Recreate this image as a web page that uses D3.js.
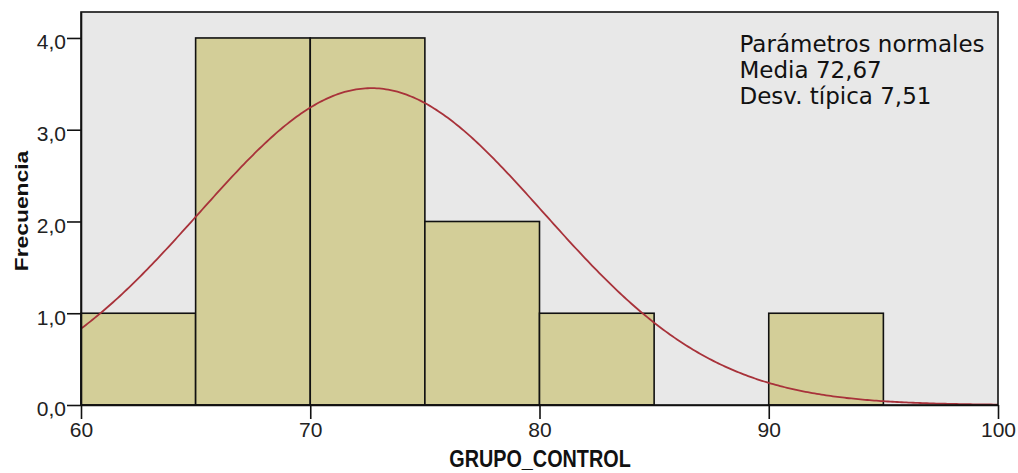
<!DOCTYPE html>
<html>
<head>
<meta charset="utf-8">
<script src="https://cdn.jsdelivr.net/npm/d3@7/dist/d3.min.js"></script>
<style>
  html, body { margin: 0; padding: 0; background: #ffffff; }
  svg { display: block; }
</style>
</head>
<body>
<svg id="chart" width="1018" height="473"></svg>
<script>
// Histogram of GRUPO_CONTROL with fitted normal curve
const binStarts = [60, 65, 70, 75, 80, 85, 90];
const binWidth = 5;
const counts = [1, 4, 4, 2, 1, 0, 1];
const meanValue = 72.67;
const sdValue = 7.51;
const xTicks = [60, 70, 80, 90, 100];
const yTicks = [0, 1, 2, 3, 4];
const legendLines = ["Parámetros normales", "Media 72,67", "Desv. típica 7,51"];

const plot = { left: 81, right: 998, top: 12, bottom: 405 };
const xDomain = [60, 100];
const yDomain = [0, 4.283];

const svg = d3.select("#chart");

const x = d3.scaleLinear().domain(xDomain).range([plot.left, plot.right]);
const y = d3.scaleLinear().domain(yDomain).range([plot.bottom, plot.top]);

// plot background
svg.append("rect")
  .attr("x", plot.left).attr("y", plot.top)
  .attr("width", plot.right - plot.left).attr("height", plot.bottom - plot.top)
  .attr("fill", "#e8e8e8");

// bars
const bins = binStarts.map((s, i) => ({ x0: s, x1: s + binWidth, n: counts[i] }))
  .filter(d => d.n > 0);
svg.append("g").selectAll("rect")
  .data(bins)
  .join("rect")
  .attr("x", d => x(d.x0))
  .attr("y", d => y(d.n))
  .attr("width", d => x(d.x1) - x(d.x0))
  .attr("height", d => y(0) - y(d.n))
  .attr("fill", "#d3ce98")
  .attr("stroke", "#111")
  .attr("stroke-width", 1.6);

// normal curve scaled to counts
const total = d3.sum(counts);
const pdf = v => Math.exp(-0.5 * ((v - meanValue) / sdValue) ** 2) / (sdValue * Math.sqrt(2 * Math.PI));
const curvePts = d3.range(xDomain[0], xDomain[1] + 0.001, 0.1).map(v => [v, total * binWidth * pdf(v)]);
svg.append("path")
  .datum(curvePts)
  .attr("fill", "none")
  .attr("stroke", "#a8323a")
  .attr("stroke-width", 1.8)
  .attr("d", d3.line().x(d => x(d[0])).y(d => y(d[1])));

// frame
svg.append("rect")
  .attr("x", plot.left).attr("y", plot.top)
  .attr("width", plot.right - plot.left).attr("height", plot.bottom - plot.top)
  .attr("fill", "none")
  .attr("stroke", "#111")
  .attr("stroke-width", 1.6);

// axes
const fmt = d => d3.format(".1f")(d).replace(".", ",");
const yAxis = svg.append("g")
  .attr("transform", `translate(${plot.left},0)`)
  .call(d3.axisLeft(y).tickValues(yTicks).tickFormat(fmt).tickSize(14).tickSizeOuter(0).tickPadding(1));
const xAxis = svg.append("g")
  .attr("transform", `translate(0,${plot.bottom})`)
  .call(d3.axisBottom(x).tickValues(xTicks).tickFormat(d3.format("d")).tickSize(14).tickSizeOuter(0).tickPadding(3));

[yAxis, xAxis].forEach(g => {
  g.select(".domain").attr("stroke", "#111").attr("stroke-width", 1.6);
  g.selectAll(".tick line").attr("stroke", "#111").attr("stroke-width", 1.6);
  g.selectAll(".tick text")
    .attr("fill", "#222")
    .style("font-family", "'Liberation Sans', Arial, sans-serif")
    .style("font-size", "21px");
});
yAxis.selectAll(".tick text").attr("dy", "0.52em");

// axis titles
svg.append("text")
  .attr("transform", `translate(540,467) scale(1,1.22)`)
  .attr("text-anchor", "middle")
  .style("font-family", "'Liberation Sans', Arial, sans-serif")
  .style("font-weight", "bold")
  .style("font-size", "19.8px")
  .attr("fill", "#111")
  .text("GRUPO_CONTROL");

svg.append("text")
  .attr("transform", `translate(28,211) rotate(-90) scale(1.27,1)`)
  .attr("text-anchor", "middle")
  .style("font-family", "'Liberation Sans', Arial, sans-serif")
  .style("font-weight", "bold")
  .style("font-size", "18px")
  .attr("fill", "#111")
  .text("Frecuencia");

// legend text
svg.append("g").selectAll("text")
  .data(legendLines)
  .join("text")
  .attr("x", 739.5)
  .attr("y", (d, i) => 51.5 + i * 26)
  .style("font-family", "'DejaVu Sans', sans-serif")
  .style("font-size", "23px")
  .attr("fill", "#111")
  .text(d => d);
</script>
</body>
</html>
